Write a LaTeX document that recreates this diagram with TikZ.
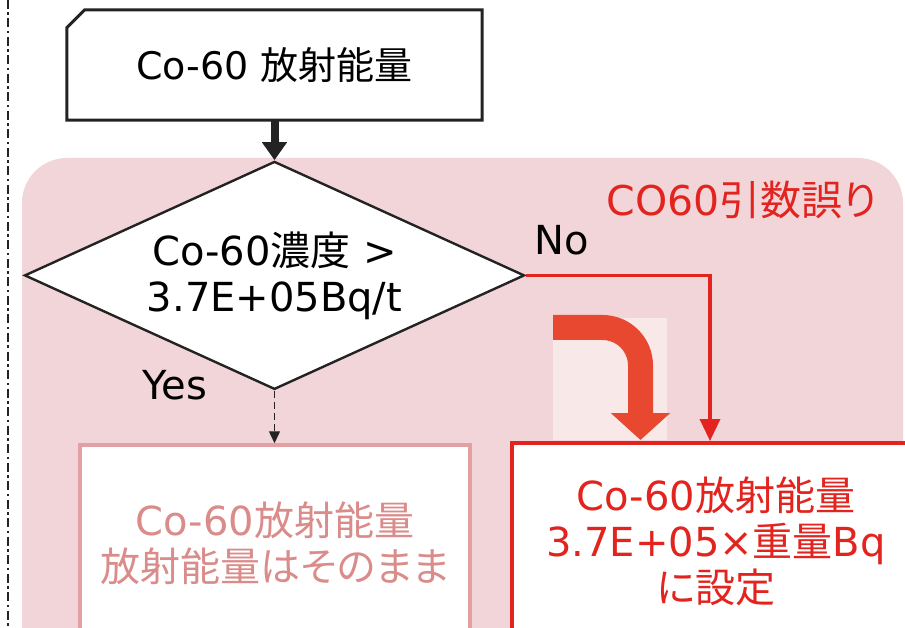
\documentclass[tikz,border=0pt]{standalone}
\usepackage{fontspec}
\setmainfont{DejaVu Sans}
\newfontfamily\jp[RawFeature=+palt]{Noto Sans CJK JP}
\usetikzlibrary{arrows.meta,shapes.geometric,positioning}
\definecolor{zonepink}{RGB}{242,213,216}
\definecolor{faintpink}{RGB}{248,232,232}
\definecolor{errred}{RGB}{226,35,30}
\definecolor{bigred}{RGB}{233,72,48}
\definecolor{palered}{RGB}{226,160,162}
\definecolor{paletext}{RGB}{218,140,138}
\definecolor{inkgray}{RGB}{35,35,35}

\begin{document}
\begin{tikzpicture}[x=1pt,y=-1pt,font=\fontsize{40}{46}\selectfont]
  \tikzstyle{startbox}=[minimum width=415pt,minimum height=110pt,inner sep=0pt,font=\fontsize{38}{44}\selectfont]
  \tikzstyle{testbox}=[diamond,draw=inkgray,line width=2.4pt,fill=white,aspect=2.2,inner sep=0pt,minimum width=500pt,minimum height=228pt,align=center]
  \tikzstyle{palebox}=[draw=palered,line width=3.5pt,fill=white,text=paletext,minimum width=390pt,minimum height=196pt,align=center]
  \tikzstyle{setbox}=[draw=errred,line width=4pt,fill=white,text=errred,minimum width=408pt,minimum height=196pt,align=center]
  \tikzstyle{flow}=[inkgray,line width=8pt,-{Triangle[width=24pt,length=18pt]}]
  \tikzstyle{yesflow}=[inkgray,line width=1.4pt,dash pattern=on 7pt off 4pt,-{Triangle[width=11pt,length=12pt]}]
  \tikzstyle{redflow}=[errred,line width=3.5pt,-{Triangle[width=20pt,length=22pt]}]
  \tikzstyle{bigturn}=[bigred,line width=25pt,rounded corners=38pt,-{Triangle[width=58pt,length=27pt]}]

  \useasboundingbox (0,0) rectangle (905,628);
  \clip (0,0) rectangle (905,628);
  \fill[white] (0,0) rectangle (905,628);
  % shaded area
  \fill[zonepink,rounded corners=45pt] (22,158) rectangle (903,720);
  \fill[faintpink] (553,318) rectangle (667,440);
  \draw[inkgray,line width=2pt,dash pattern=on 9pt off 3.5pt on 2.5pt off 3.5pt] (8,0) -- (8,628);

  \node[startbox] (start) at (274.5,65) {Co-60 {\jp 放射能量}};
  \draw[inkgray,line width=3pt] (start.south west) -- ([yshift=-18pt]start.north west)
    -- ([xshift=18pt]start.north west) -- (start.north east) -- (start.south east) -- cycle;
  \node[testbox] (test) [below=40pt of start] {Co-60{\jp 濃度} >\\3.7E+05Bq/t};

  \node[palebox] (keep) at (275,543) {Co-60{\jp 放射能量}\\{\jp 放射能量はそのまま}};
  \node[setbox] (set) at (716,541) {Co-60{\jp 放射能量}\\3.7E+05×{\jp 重量}Bq\\{\jp に設定}};

  \node (no) at (562,240) {No};
  \node (yes) at (175,385) {Yes};
  \node[text=errred,font=\fontsize{41}{46}\selectfont] (err) at (742,200) {CO60{\jp 引数誤り}};

  \path
    (start) edge[flow] (test)
    (test.south) edge[yesflow] (test.south |- keep.north);
  \draw[redflow] (test.east) -| ([xshift=-6pt]set.north);
  \draw[bigturn] (553,327.5) -| (640.5,440);
\end{tikzpicture}
\end{document}
